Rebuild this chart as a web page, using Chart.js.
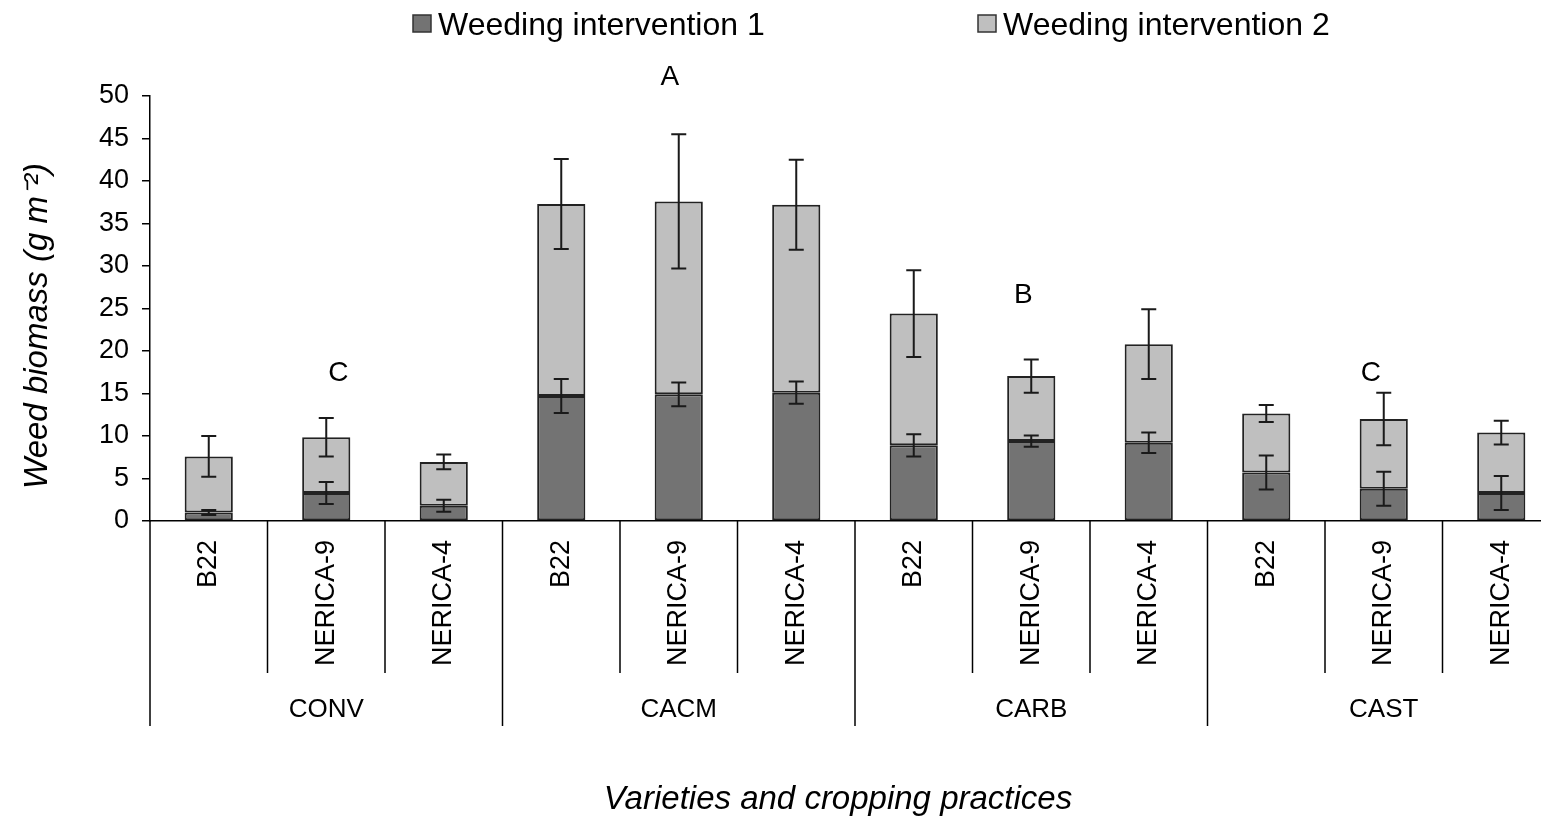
<!DOCTYPE html>
<html>
<head>
<meta charset="utf-8">
<script src="https://cdn.jsdelivr.net/npm/chart.js@4"></script>
<style>
  html, body { margin: 0; padding: 0; background: #fff; overflow: hidden; }
</style>
</head>
<body>
<canvas id="chart" width="1560" height="826"></canvas>
<script>
// Categories
const varieties = ["B22", "NERICA-9", "NERICA-4", "B22", "NERICA-9", "NERICA-4",
                   "B22", "NERICA-9", "NERICA-4", "B22", "NERICA-9", "NERICA-4"];
const practices = ["CONV", "CACM", "CARB", "CAST"];

// Weed biomass (g m-2) per weeding intervention
const weeding1 = [1.0, 3.3, 1.8, 14.7, 14.9, 15.1, 8.9, 9.4, 9.2, 5.7, 3.8, 3.3];
const weeding2 = [6.6, 6.55, 5.15, 22.6, 22.7, 22.1, 15.5, 7.65, 11.6, 6.95, 8.2, 7.1];

// Error bars (drawn at top of each stacked segment)
const err1 = [0.28, 1.3, 0.7, 2.0, 1.4, 1.3, 1.3, 0.65, 1.2, 2.0, 2.0, 2.0];
const err2 = [2.4, 2.27, 0.87, 5.3, 7.9, 5.3, 5.1, 1.95, 4.1, 1.0, 3.1, 1.4];

// Significance letters per cropping practice
const letters = ["C", "A", "B", "C"];
const letterIndex = [1, 4, 7, 10];
const letterValue = [17.4, 52.2, 26.6, 17.4];
const letterShift = [12, -9, -8, -13];

const xTitle = "Varieties and cropping practices";
const yTitle = "Weed biomass (g m\u207B\u00B2)";

const FONT = '"Liberation Sans", Arial, sans-serif';
const darkGrey = "#737373";
const lightGrey = "#bfbfbf";

// Error bars
const errorBars = {
  id: "errorBars",
  afterDatasetsDraw(chart) {
    const ctx = chart.ctx;
    const y = chart.scales.y;
    const meta = chart.getDatasetMeta(0);
    ctx.save();
    ctx.strokeStyle = "#1a1a1a";
    ctx.lineWidth = 2;
    meta.data.forEach((bar, i) => {
      const tops = [[weeding1[i], err1[i]], [weeding1[i] + weeding2[i], err2[i]]];
      tops.forEach(([v, e]) => {
        const yHi = y.getPixelForValue(v + e);
        const yLo = y.getPixelForValue(v - e);
        ctx.beginPath();
        ctx.moveTo(bar.x, yHi); ctx.lineTo(bar.x, yLo);
        ctx.moveTo(bar.x - 7.5, yHi); ctx.lineTo(bar.x + 7.5, yHi);
        ctx.moveTo(bar.x - 7.5, yLo); ctx.lineTo(bar.x + 7.5, yLo);
        ctx.stroke();
      });
    });
    ctx.restore();
  }
};

// Grouped x axis: separators and practice labels, titles, letters and legend
const extras = {
  id: "extras",
  afterDraw(chart) {
    const ctx = chart.ctx;
    const x = chart.scales.x;
    const y = chart.scales.y;
    const base = chart.chartArea.bottom;
    const step = x.getPixelForValue(1) - x.getPixelForValue(0);
    ctx.save();
    ctx.strokeStyle = "#000";
    ctx.lineWidth = 1.5;
    for (let i = 0; i <= varieties.length; i++) {
      const px = x.getPixelForValue(i) - step / 2;
      ctx.beginPath();
      ctx.moveTo(px, base);
      ctx.lineTo(px, i % 3 === 0 ? 726 : 673);
      ctx.stroke();
    }
    ctx.fillStyle = "#000";
    ctx.textAlign = "center";
    ctx.textBaseline = "middle";
    ctx.font = '26px "Liberation Sans Narrow", "Liberation Sans", sans-serif';
    practices.forEach((p, g) => {
      const cx = (x.getPixelForValue(g * 3) + x.getPixelForValue(g * 3 + 2)) / 2;
      ctx.fillText(p, cx, 710);
    });

    // axis titles
    ctx.font = "italic 33px " + FONT;
    ctx.fillText(xTitle, 838, 800);
    ctx.save();
    ctx.translate(38, 326);
    ctx.rotate(-Math.PI / 2);
    ctx.fillText(yTitle, 0, 0);
    ctx.restore();

    // letters
    ctx.font = "28px " + FONT;
    letters.forEach((l, k) => {
      ctx.fillText(l, x.getPixelForValue(letterIndex[k]) + letterShift[k], y.getPixelForValue(letterValue[k]));
    });

    // legend
    const legendX = [413, 978];
    chart.data.datasets.forEach((ds, k) => {
      ctx.fillStyle = ds.backgroundColor;
      ctx.strokeStyle = "#333";
      ctx.lineWidth = 1.5;
      ctx.fillRect(legendX[k], 15, 18, 17);
      ctx.strokeRect(legendX[k], 15, 18, 17);
      ctx.fillStyle = "#000";
      ctx.textAlign = "left";
      ctx.font = "32px " + FONT;
      ctx.fillText(ds.label, legendX[k] + 25, 26);
    });
    ctx.restore();
  }
};

new Chart(document.getElementById("chart"), {
  type: "bar",
  data: {
    labels: varieties,
    datasets: [
      { label: "Weeding intervention 1", data: weeding1, backgroundColor: darkGrey,
        borderColor: "#222", borderWidth: 2, borderSkipped: false },
      { label: "Weeding intervention 2", data: weeding2, backgroundColor: lightGrey,
        borderColor: "#222", borderWidth: 2, borderSkipped: false }
    ]
  },
  options: {
    responsive: false,
    animation: false,
    layout: { padding: { top: 96, left: 0, right: 0, bottom: 0 } },
    datasets: { bar: { barPercentage: 0.41, categoryPercentage: 1 } },
    plugins: { legend: { display: false }, tooltip: { enabled: false } },
    scales: {
      x: {
        stacked: true,
        grid: { display: false, drawTicks: false },
        border: { color: "#000", width: 1.5 },
        ticks: { color: "#000", font: { family: FONT, size: 27 }, minRotation: 90, maxRotation: 90,
                 autoSkip: false, padding: 19 },
        afterFit(scale) { scale.height = 305; }
      },
      y: {
        stacked: true,
        min: 0,
        max: 50,
        ticks: { stepSize: 5, color: "#000", font: { family: FONT, size: 27 }, padding: 13 },
        grid: { drawOnChartArea: false, color: "#000", lineWidth: 1.5, tickLength: 8 },
        border: { color: "#000", width: 1.5 },
        afterFit(scale) { scale.width = 150; }
      }
    }
  },
  plugins: [errorBars, extras]
});
</script>
</body>
</html>
